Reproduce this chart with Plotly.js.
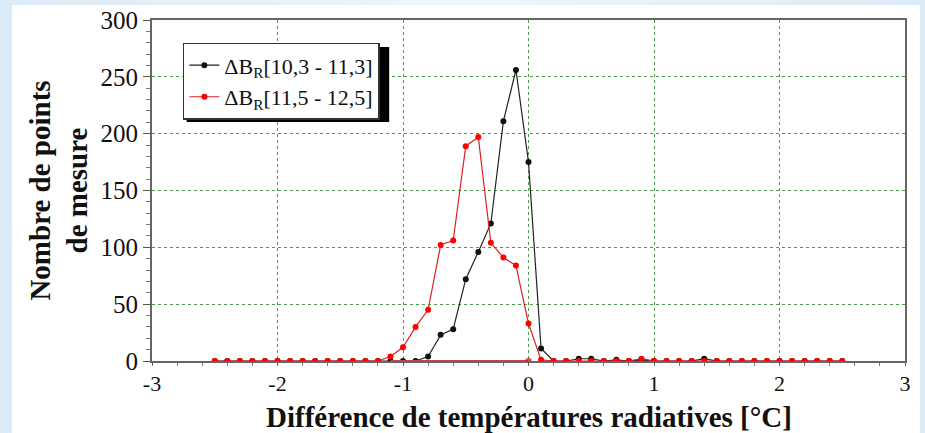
<!DOCTYPE html>
<html>
<head>
<meta charset="utf-8">
<script src="https://cdn.plot.ly/plotly-3.0.1.min.js"></script>
<style>
  html, body { margin:0; padding:0; width:925px; height:433px; overflow:hidden;
    background: linear-gradient(90deg, #dcebf8 0%, #eef5fc 50%, #dcebf8 100%); }
  #chart { position:absolute; left:12px; top:5px; width:908px; height:428px; background:#fff; }
</style>
</head>
<body>
<div id="chart"></div>
<script>
// Data
var xValues = [-2.5,-2.4,-2.3,-2.2,-2.1,-2.0,-1.9,-1.8,-1.7,-1.6,-1.5,-1.4,-1.3,-1.2,-1.1,-1.0,-0.9,-0.8,-0.7,-0.6,-0.5,-0.4,-0.3,-0.2,-0.1,0.0,0.1,0.2,0.3,0.4,0.5,0.6,0.7,0.8,0.9,1.0,1.1,1.2,1.3,1.4,1.5,1.6,1.7,1.8,1.9,2.0,2.1,2.2,2.3,2.4,2.5];
var blackSeries = [0,0,0,0,0,0,0,0,0,0,0,0,0,0,0,0,0,4,23,28,72,96,121,211,256,175,11,0,0,2,2,0,1,0,1,0,0,0,0,2,0,0,0,0,0,0,0,0,0,0,0];
var redSeries   = [0,0,0,0,0,0,0,0,0,0,0,0,0,0,4,12,30,45,102,106,189,197,104,91,84,33,1,0,0,0,0,0,0,0,2,0,0,0,0,0,0,0,0,0,0,0,0,0,0,0,0];
var baseX = [-1.1, 0.0];
var baseY = [0, 0];
var blackName = "ΔB<sub>R</sub>[10,3 - 11,3]";
var redName = "ΔB<sub>R</sub>[11,5 - 12,5]";
var xTitle = "Différence de températures radiatives [°C]";
var yTitle = "Nombre de points<br>de mesure";
var xTickVals = [-3,-2,-1,0,1,2,3];
var yTickVals = [0,50,100,150,200,250,300];

var serif = "'Times New Roman', 'Liberation Serif', Times, serif";

var traces = [
  {x: xValues, y: blackSeries, name: blackName, mode: "lines+markers", type: "scatter",
   line: {color: "#222", width: 1.2}, marker: {color: "#111", size: 6}},
  {x: baseX, y: baseY, mode: "lines+markers", type: "scatter", showlegend: false,
   line: {color: "#b84848", width: 2.2}, marker: {color: "#e00000", size: [0, 6]}},
  {x: xValues, y: redSeries, name: redName, mode: "lines+markers", type: "scatter",
   line: {color: "#e02020", width: 1.2}, marker: {color: "#ff0000", size: 6}}
];

var gridColor = "#4f9a4f";
var layout = {
  width: 908, height: 428,
  margin: {l: 140, r: 15, t: 15, b: 72},
  paper_bgcolor: "#ffffff", plot_bgcolor: "#ffffff",
  showlegend: true,
  legend: {x: 0.041, y: 0.933, xanchor: "left", yanchor: "top",
    bgcolor: "#ffffff", bordercolor: "#333", borderwidth: 1.5,
    font: {family: serif, size: 22, color: "#111", weight: "normal"}, tracegroupgap: 0},
  font: {family: serif, color: "#111"},
  xaxis: {range: [-3, 3], tickvals: xTickVals, ticktext: xTickVals.map(String),
    showgrid: true, gridcolor: gridColor, griddash: "dot", gridwidth: 1,
    zeroline: false, showline: true, linecolor: "#666", linewidth: 2, mirror: true,
    ticks: "outside", ticklen: 2, tickcolor: "#555", tickwidth: 1,
    minor: {dtick: 0.2, ticks: "outside", ticklen: 3, tickcolor: "#777", showgrid: false},
    tickfont: {family: serif, size: 22, color: "#111", weight: "normal"}},
  yaxis: {range: [0, 300], tickvals: yTickVals, ticktext: yTickVals.map(String),
    showgrid: true, gridcolor: gridColor, griddash: "dot", gridwidth: 1,
    zeroline: false, showline: true, linecolor: "#666", linewidth: 2, mirror: true,
    ticks: "outside", ticklen: 7, tickcolor: "#555", tickwidth: 1,
    minor: {dtick: 10, ticks: "outside", ticklen: 4, tickcolor: "#777", showgrid: false},
    tickfont: {family: serif, size: 25, color: "#111", weight: "normal"},
    title: {text: "<b>" + yTitle + "</b>", font: {family: serif, size: 29, color: "#111"}, standoff: 4}},
  annotations: [
    {text: "<b>" + xTitle + "</b>", xref: "paper", yref: "paper", x: 0.5, y: -0.163,
     xanchor: "center", yanchor: "middle", showarrow: false,
     font: {family: serif, size: 29, color: "#111"}}
  ],
  shapes: [
    {type: "rect", xref: "paper", yref: "paper", x0: 0.046, x1: 0.315, y0: 0.701, y1: 0.921,
     fillcolor: "#000", line: {width: 0}, layer: "above"}
  ]
};

Plotly.newPlot("chart", traces, layout, {displayModeBar: false, staticPlot: true});
</script>
</body>
</html>
